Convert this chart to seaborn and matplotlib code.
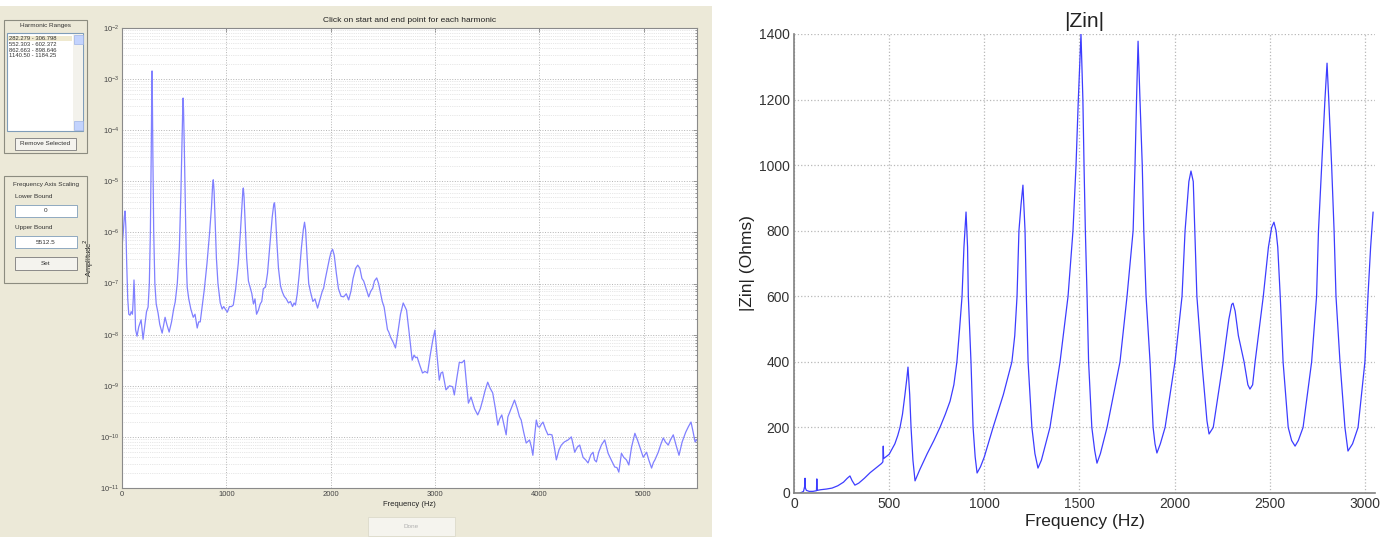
import numpy as np
import matplotlib
matplotlib.use('Agg')
import matplotlib.pyplot as plt
from matplotlib.patches import Rectangle
from matplotlib.ticker import LogLocator, NullFormatter
import seaborn as sns

# left panel: power spectrum, values read as log10(amplitude^2)
spec_freq = [0, 12, 22, 29, 37, 45, 55, 65, 77, 88,
             100, 108, 115, 122, 130, 144, 160, 183, 193, 202,
             220, 235, 250, 262, 272, 280, 285, 288, 291, 296,
             304, 315, 328, 346, 362, 385, 400, 413, 430, 452,
             475, 495, 510, 530, 550, 565, 575, 582, 586, 590,
             597, 607, 617, 625, 640, 660, 683, 700, 721, 735,
             750, 765, 790, 815, 840, 858, 868, 875, 883, 893,
             905, 920, 942, 960, 975, 990, 1010, 1030, 1050, 1067,
             1090, 1115, 1135, 1150, 1158, 1163, 1170, 1180, 1195, 1212,
             1231, 1245, 1260, 1275, 1290, 1308, 1325, 1340, 1355, 1375,
             1395, 1420, 1440, 1455, 1462, 1470, 1485, 1500, 1520, 1538,
             1555, 1575, 1596, 1615, 1635, 1650, 1663, 1680, 1700, 1720,
             1738, 1750, 1760, 1775, 1790, 1808, 1830, 1850, 1875, 1900,
             1920, 1933, 1950, 1970, 1990, 2005, 2019, 2035, 2055, 2075,
             2100, 2125, 2150, 2173, 2195, 2215, 2240, 2260, 2280, 2300,
             2317, 2340, 2365, 2385, 2404, 2420, 2442, 2460, 2480, 2495,
             2513, 2530, 2545, 2558, 2575, 2600, 2622, 2644, 2670, 2696,
             2728, 2755, 2782, 2800, 2815, 2830, 2855, 2881, 2905, 2929,
             2955, 2980, 3000, 3020, 3042, 3058, 3074, 3090, 3106, 3140,
             3170, 3186, 3210, 3234, 3258, 3282, 3300, 3321, 3346, 3380,
             3410, 3435, 3458, 3480, 3506, 3530, 3554, 3580, 3603, 3620,
             3641, 3660, 3683, 3699, 3720, 3740, 3763, 3790, 3810, 3827,
             3850, 3875, 3907, 3925, 3939, 3955, 3972, 3988, 4004, 4020,
             4036, 4060, 4084, 4100, 4122, 4145, 4164, 4190, 4212, 4240,
             4276, 4308, 4325, 4340, 4365, 4388, 4420, 4445, 4468, 4495,
             4516, 4530, 4548, 4570, 4596, 4628, 4645, 4660, 4690, 4724,
             4745, 4763, 4788, 4810, 4836, 4859, 4885, 4917, 4940, 4965,
             4997, 5029, 5050, 5077, 5095, 5109, 5141, 5165, 5189, 5210,
             5237, 5260, 5285, 5310, 5340, 5370, 5404, 5430, 5455, 5475,
             5494, 5512]
spec_log = [-6.3, -6.0, -5.7, -5.58, -5.9, -6.6, -7.3, -7.6, -7.62, -7.55,
            -7.6, -7.3, -6.93, -7.3, -7.9, -8.03, -7.85, -7.71, -7.9, -8.09,
            -7.8, -7.55, -7.46, -7.0, -6.0, -4.5, -3.3, -2.84, -3.3, -4.5,
            -6.0, -7.0, -7.4, -7.58, -7.8, -7.97, -7.8, -7.66, -7.8, -7.95,
            -7.75, -7.5, -7.36, -7.0, -6.3, -5.2, -4.2, -3.6, -3.37, -3.6,
            -4.3, -5.5, -6.6, -7.07, -7.3, -7.5, -7.66, -7.6, -7.87, -7.75,
            -7.75, -7.5, -7.1, -6.6, -6.0, -5.5, -5.1, -4.97, -5.2, -5.8,
            -6.5, -7.0, -7.38, -7.5, -7.45, -7.5, -7.56, -7.45, -7.45, -7.42,
            -7.1, -6.6, -6.0, -5.5, -5.2, -5.13, -5.3, -5.8, -6.5, -6.95,
            -7.09, -7.2, -7.4, -7.3, -7.6, -7.52, -7.4, -7.35, -7.1, -7.07,
            -6.8, -6.2, -5.7, -5.45, -5.42, -5.6, -6.2, -6.7, -7.05, -7.17,
            -7.25, -7.3, -7.38, -7.35, -7.45, -7.38, -7.42, -7.2, -6.8, -6.3,
            -5.95, -5.8, -5.95, -6.5, -7.0, -7.17, -7.35, -7.3, -7.48, -7.3,
            -7.15, -7.09, -6.9, -6.7, -6.5, -6.38, -6.33, -6.45, -6.8, -7.1,
            -7.25, -7.26, -7.2, -7.32, -7.15, -6.9, -6.7, -6.64, -6.7, -6.9,
            -6.95, -7.1, -7.26, -7.15, -7.09, -6.95, -6.89, -7.0, -7.2, -7.35,
            -7.46, -7.7, -7.9, -7.95, -8.05, -8.15, -8.26, -7.97, -7.6, -7.38,
            -7.52, -8.0, -8.5, -8.4, -8.45, -8.44, -8.6, -8.75, -8.72, -8.75,
            -8.4, -8.1, -7.91, -8.4, -8.89, -8.75, -8.73, -8.9, -9.08, -9.0,
            -9.02, -9.18, -8.85, -8.54, -8.55, -8.5, -8.9, -9.34, -9.22, -9.45,
            -9.57, -9.45, -9.28, -9.1, -8.93, -9.05, -9.14, -9.45, -9.77, -9.65,
            -9.57, -9.75, -9.96, -9.61, -9.5, -9.4, -9.28, -9.45, -9.6, -9.67,
            -9.9, -10.12, -10.06, -10.2, -10.36, -10.0, -9.67, -9.8, -9.81, -9.75,
            -9.71, -9.85, -9.96, -9.95, -9.96, -10.2, -10.45, -10.25, -10.16, -10.1,
            -10.06, -10.0, -10.15, -10.3, -10.2, -10.16, -10.4, -10.45, -10.51, -10.35,
            -10.3, -10.45, -10.49, -10.3, -10.16, -10.06, -10.2, -10.32, -10.45, -10.59,
            -10.6, -10.69, -10.32, -10.4, -10.45, -10.55, -10.2, -9.93, -10.05, -10.2,
            -10.4, -10.3, -10.45, -10.61, -10.5, -10.45, -10.3, -10.15, -10.02, -10.1,
            -10.16, -10.05, -9.96, -10.15, -10.36, -10.1, -9.91, -9.8, -9.71, -9.9,
            -10.1, -10.05]

# right panel: input impedance magnitude
zin_freq = [32, 40, 50, 56, 58, 60, 65, 80, 100, 118,
            120, 122, 140, 170, 200, 230, 260, 280, 294, 305,
            320, 340, 370, 400, 430, 460, 467, 469, 471, 500,
            530, 545, 557, 570, 583, 593, 599, 608, 615, 625,
            636, 660, 700, 735, 767, 795, 820, 840, 856, 870,
            883, 893, 904, 912, 916, 923, 930, 941, 952, 962,
            980, 1000, 1046, 1100, 1145, 1160, 1172, 1182, 1193, 1203,
            1214, 1221, 1230, 1250, 1266, 1282, 1300, 1345, 1398, 1440,
            1466, 1482, 1494, 1508, 1518, 1524, 1531, 1540, 1548, 1565,
            1580, 1592, 1610, 1645, 1713, 1750, 1782, 1792, 1800, 1808,
            1818, 1830, 1838, 1850, 1871, 1887, 1897, 1907, 1925, 1950,
            2002, 2039, 2055, 2075, 2086, 2098, 2106, 2117, 2143, 2170,
            2181, 2203, 2255, 2285, 2300, 2307, 2318, 2335, 2365, 2385,
            2396, 2410, 2423, 2466, 2493, 2510, 2522, 2533, 2542, 2555,
            2570, 2597, 2615, 2633, 2650, 2675, 2720, 2746, 2756, 2773,
            2790, 2801, 2810, 2825, 2838, 2848, 2869, 2895, 2911, 2935,
            2964, 3000, 3016, 3030, 3043]
zin_ohms = [0, 2, 5, 20, 45, 15, 8, 5, 5, 7,
            43, 8, 10, 12, 15, 22, 33, 45, 52, 38,
            24, 30, 45, 62, 76, 90, 95, 143, 105, 118,
            150, 175, 200, 240, 300, 350, 384, 300, 200, 100,
            37, 70, 120, 160, 200, 240, 280, 330, 400, 500,
            600, 750, 857, 750, 600, 500, 400, 200, 110, 61,
            80, 110, 200, 300, 400, 480, 600, 800, 880, 939,
            800, 600, 400, 200, 120, 76, 100, 200, 400, 600,
            800, 1000, 1200, 1400, 1200, 1000, 800, 600, 400, 200,
            130, 91, 120, 200, 400, 600, 800, 1000, 1200, 1378,
            1200, 1000, 800, 600, 400, 200, 150, 122, 150, 200,
            400, 600, 800, 950, 982, 950, 800, 600, 400, 220,
            180, 200, 400, 530, 575, 579, 555, 480, 400, 330,
            317, 330, 400, 600, 750, 810, 826, 800, 750, 600,
            400, 200, 160, 143, 160, 200, 400, 600, 800, 1000,
            1200, 1311, 1200, 1000, 800, 600, 400, 200, 128, 150,
            200, 400, 600, 750, 857]

harmonic_ranges = ['282.279 - 306.798', '552.303 - 602.372',
                   '862.663 - 898.646', '1140.50 - 1184.25']
lower_bound = '0'
upper_bound = '5512.5'

left_xticks = [0, 1000, 2000, 3000, 4000, 5000]
left_yticks = [1e-11, 1e-10, 1e-9, 1e-8, 1e-7, 1e-6, 1e-5, 1e-4, 1e-3, 1e-2]
right_xticks = [0, 500, 1000, 1500, 2000, 2500, 3000]
right_yticks = [0, 200, 400, 600, 800, 1000, 1200, 1400]

W, H = 1393, 537
sns.set_style('white')
plt.rcParams['font.family'] = ['Liberation Sans', 'DejaVu Sans']

fig = plt.figure(figsize=(W / 100, H / 100), dpi=100)


def box(x0, y0, x1, y1, fc='none', ec='#8c8c80', lw=0.8, z=1):
    fig.add_artist(Rectangle((x0 / W, 1 - y1 / H), (x1 - x0) / W, (y1 - y0) / H,
                             transform=fig.transFigure, fc=fc, ec=ec, lw=lw, zorder=z))


def label(x, y, s, size=4.6, ha='center', color='#333333'):
    fig.text(x / W, 1 - y / H, s, fontsize=size, ha=ha, va='center', color=color)


# matlab gui background
box(0, 6, 712, 537, fc='#ece9d8', ec='none', z=-1)

# "Harmonic Ranges" panel
box(4, 20, 87, 153)
label(46, 25, 'Harmonic Ranges')
box(7, 33, 83, 131, fc='white', ec='#7f9db9')
box(8, 36.5, 72, 41.5, fc='#efe9cf', ec='none', z=2)
for i, s in enumerate(harmonic_ranges):
    label(9, 39 + i * 5.6, s, size=4.2, ha='left')
box(73, 34, 83, 131, fc='#f3f2ec', ec='none', z=2)
box(73.5, 35, 82.5, 44, fc='#c3d3fd', ec='#9fb4e6', lw=0.5, z=3)
box(73.5, 121, 82.5, 130, fc='#c3d3fd', ec='#9fb4e6', lw=0.5, z=3)
box(15, 138, 76, 150, fc='#f4f3ee', ec='#7a7a7a', lw=0.6)
label(45.5, 144, 'Remove Selected')

# "Frequency Axis Scaling" panel
box(4, 176, 87, 283)
label(46, 184, 'Frequency Axis Scaling')
label(15, 197, 'Lower Bound', ha='left')
box(15, 205, 77, 217, fc='white', ec='#7f9db9', lw=0.6)
label(46, 211, lower_bound)
label(15, 228, 'Upper Bound', ha='left')
box(15, 236, 77, 248, fc='white', ec='#7f9db9', lw=0.6)
label(46, 242, upper_bound)
box(15, 257, 77, 270, fc='#f4f3ee', ec='#7a7a7a', lw=0.6)
label(46, 263.5, 'Set')

# disabled Done button
box(368, 517, 455, 536, fc='#f5f4ee', ec='#dcdacb', lw=0.6)
label(411, 527, 'Done', color='#b0b0b0')

# left: spectrum on log axis
ax1 = fig.add_axes([122 / W, 1 - 488 / H, 575 / W, 460 / H])
ax1.set_facecolor('white')
amp = 10.0 ** np.array(spec_log)
sns.lineplot(x=spec_freq, y=amp, ax=ax1, color='#8080ff', lw=0.9, estimator=None)
ax1.set_yscale('log')
ax1.set_xlim(0, 5512.5)
ax1.set_ylim(1e-11, 1e-2)
ax1.set_yticks(left_yticks)
ax1.yaxis.set_minor_locator(LogLocator(base=10, subs=np.arange(2, 10), numticks=20))
ax1.yaxis.set_minor_formatter(NullFormatter())
ax1.set_xticks(left_xticks)
ax1.grid(which='major', ls=':', lw=0.7, color='#b4b4b4')
ax1.grid(which='minor', axis='y', ls=':', lw=0.5, color='#d0d0d0')
ax1.tick_params(which='both', direction='in', top=True, right=True,
                labelsize=5.5, labelcolor='#444444', color='#777777', width=0.5, pad=2)
ax1.tick_params(which='major', length=3)
ax1.tick_params(which='minor', length=1.5)
for sp in ax1.spines.values():
    sp.set_color('#8a8a8a')
    sp.set_linewidth(0.8)
ax1.set_title('Click on start and end point for each harmonic', fontsize=6, pad=4, color='#222222')
ax1.set_xlabel('Frequency (Hz)', fontsize=5.5, labelpad=2, color='#222222')
ax1.set_ylabel('Amplitude$^2$', fontsize=5.5, labelpad=3, color='#222222')

# right: input impedance
ax2 = fig.add_axes([794 / W, 1 - 493 / H, 581 / W, 459 / H])
sns.lineplot(x=zin_freq, y=zin_ohms, ax=ax2, color='#3d3dff', lw=0.9, estimator=None)
ax2.set_xlim(0, 3053)
ax2.set_ylim(0, 1400)
ax2.set_xticks(right_xticks)
ax2.set_yticks(right_yticks)
ax2.grid(True, ls=':', lw=0.9, color='#b8b8b8')
for side in ['top', 'right']:
    ax2.spines[side].set_visible(False)
for side in ['left', 'bottom']:
    ax2.spines[side].set_color('#808080')
    ax2.spines[side].set_linewidth(1.2)
ax2.tick_params(direction='in', length=4, color='#808080', labelsize=10,
                labelcolor='#333333', pad=3)
ax2.set_title('|Zin|', fontsize=15, pad=5, color='#222222')
ax2.set_xlabel('Frequency (Hz)', fontsize=12.5, labelpad=2, color='#222222')
ax2.set_ylabel('|Zin| (Ohms)', fontsize=12.5, labelpad=3, color='#222222')

fig.savefig('out.png', dpi=100)
